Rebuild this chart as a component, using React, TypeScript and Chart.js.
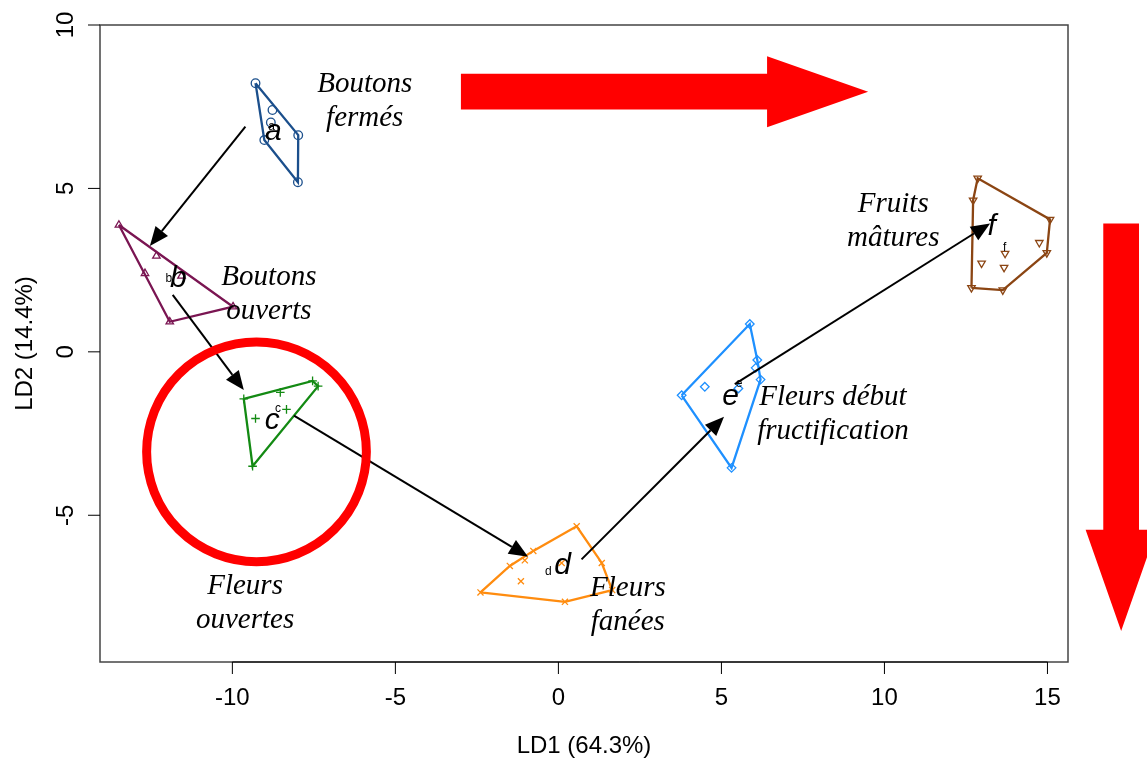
import React, { useEffect, useRef } from "react";
import { Chart, registerables } from "chart.js";

Chart.register(...registerables);

// ---- axes ----
const X_TICKS = [-10, -5, 0, 5, 10, 15];
const Y_TICKS = [-5, 0, 5, 10];
const X_MIN = -14.06;
const X_MAX = 15.63;
const Y_MIN = -9.49;
const Y_MAX = 10.0;
const X_TITLE = "LD1 (64.3%)";
const Y_TITLE = "LD2 (14.4%)";

// ---- group scores (LD1, LD2) ----
const A_LD1 = [-9.29, -8.77, -8.82, -7.98, -9.02, -7.99];
const A_LD2 = [8.22, 7.4, 7.02, 6.63, 6.48, 5.19];
const B_LD1 = [-13.48, -12.33, -12.68, -11.56, -9.98, -11.92];
const B_LD2 = [3.88, 2.93, 2.4, 2.32, 1.38, 0.92];
const C_LD1 = [-9.65, -8.53, -7.54, -7.37, -8.34, -9.29, -9.38];
const C_LD2 = [-1.44, -1.24, -0.89, -1.05, -1.76, -2.04, -3.5];
const D_LD1 = [0.56, -0.77, -1.03, -1.49, 1.33, 0.1, -1.15, -2.39, 0.2, 1.65];
const D_LD2 = [-5.34, -6.09, -6.38, -6.55, -6.46, -6.46, -7.02, -7.36, -7.65, -7.29];
const E_LD1 = [5.87, 6.1, 6.05, 6.2, 4.49, 5.52, 3.78, 5.31];
const E_LD2 = [0.85, -0.25, -0.49, -0.85, -1.07, -1.12, -1.33, -3.55];
const F_LD1 = [12.86, 12.72, 15.08, 14.75, 13.7, 14.98, 12.98, 13.67, 12.67, 13.63];
const F_LD2 = [5.31, 4.64, 4.05, 3.34, 3.01, 3.03, 2.71, 2.58, 1.96, 1.89];

const GROUP_LD1 = [A_LD1, B_LD1, C_LD1, D_LD1, E_LD1, F_LD1];
const GROUP_LD2 = [A_LD2, B_LD2, C_LD2, D_LD2, E_LD2, F_LD2];
const GROUP_COLORS = ["#1B4F8C", "#7A1552", "#138A13", "#FF8C0F", "#1E90FF", "#8B4513"];
const GROUP_SHAPES = ["circle", "triangle", "cross", "crossRot", "rectRot", "triangle"];
const GROUP_ROT = [0, 0, 0, 0, 0, 180];

// ---- annotations ----
const LETTERS = ["a", "b", "c", "d", "e", "f"];
const LETTER_LD1 = [-8.74, -11.66, -8.78, 0.13, 5.28, 13.29];
const LETTER_LD2 = [6.73, 2.25, -2.11, -6.53, -1.38, 3.83];
const SMALL_LD1 = [-8.8, -11.95, -8.6, -0.31, 5.54, 13.69];
const SMALL_LD2 = [6.9, 2.23, -1.75, -6.73, -0.97, 3.2];

const STAGE_LINE1 = ["Boutons", "Boutons", "Fleurs", "Fleurs", "Fleurs début", "Fruits"];
const STAGE_LINE2 = ["fermés", "ouverts", "ouvertes", "fanées", "fructification", "mâtures"];
const STAGE_LD1 = [-5.94, -8.88, -9.61, 2.13, 8.42, 10.27];
const STAGE_LD2 = [8.17, 2.27, -7.19, -7.24, -1.38, 4.5];

const ARROW_FROM_LD1 = [-9.6, -11.83, -8.11, 0.71, 5.41];
const ARROW_FROM_LD2 = [6.89, 1.74, -1.95, -6.35, -0.99];
const ARROW_TO_LD1 = [-12.53, -9.65, -0.93, 5.08, 13.24];
const ARROW_TO_LD2 = [3.24, -1.17, -6.27, -1.99, 3.93];

// highlight overlays (data units)
const CIRCLE_CENTER = [-9.26, -3.06];
const CIRCLE_RADIUS = 3.37;
const TOP_ARROW = { tail: -2.99, neck: 6.4, tip: 9.5, mid: 7.96, shaft: 0.546, head: 1.087 };
const SIDE_ARROW = { mid: 17.26, tail: 3.93, neck: -5.44, tip: -8.54, shaft: 0.548, head: 1.09 };

type P = { x: number; y: number };

function convexHull(pts: P[]): P[] {
  const p = [...pts].sort((a, b) => a.x - b.x || a.y - b.y);
  const cross = (o: P, a: P, b: P) => (a.x - o.x) * (b.y - o.y) - (a.y - o.y) * (b.x - o.x);
  const lower: P[] = [];
  for (const q of p) {
    while (lower.length >= 2 && cross(lower[lower.length - 2], lower[lower.length - 1], q) <= 0) lower.pop();
    lower.push(q);
  }
  const upper: P[] = [];
  for (const q of [...p].reverse()) {
    while (upper.length >= 2 && cross(upper[upper.length - 2], upper[upper.length - 1], q) <= 0) upper.pop();
    upper.push(q);
  }
  upper.pop();
  lower.pop();
  const h = lower.concat(upper);
  h.push(h[0]);
  return h;
}

const SANS = '"Liberation Sans", Arial, Helvetica, sans-serif';
const SERIF = '"Liberation Serif", "Times New Roman", serif';

const decor = {
  id: "rdecor",
  afterDraw(chart: any) {
    const { ctx, chartArea } = chart;
    const xs = chart.scales.x;
    const ys = chart.scales.y;
    const px = (v: number) => xs.getPixelForValue(v);
    const py = (v: number) => ys.getPixelForValue(v);
    const { left, right, top, bottom } = chartArea;
    ctx.save();

    // frame
    ctx.strokeStyle = "#444";
    ctx.lineWidth = 1.5;
    ctx.strokeRect(left, top, right - left, bottom - top);

    // axes ticks + labels
    ctx.strokeStyle = "#000";
    ctx.lineWidth = 1;
    ctx.fillStyle = "#000";
    ctx.font = `24px ${SANS}`;
    ctx.textAlign = "center";
    ctx.textBaseline = "middle";
    ctx.beginPath();
    ctx.moveTo(px(X_TICKS[0]), bottom);
    ctx.lineTo(px(X_TICKS[X_TICKS.length - 1]), bottom);
    ctx.stroke();
    for (const v of X_TICKS) {
      const X = px(v);
      ctx.beginPath();
      ctx.moveTo(X, bottom);
      ctx.lineTo(X, bottom + 12);
      ctx.stroke();
      ctx.fillText(String(v), X, bottom + 36);
    }
    for (const v of Y_TICKS) {
      const Y = py(v);
      ctx.beginPath();
      ctx.moveTo(left - 12, Y);
      ctx.lineTo(left, Y);
      ctx.stroke();
      ctx.save();
      ctx.translate(left - 34, Y);
      ctx.rotate(-Math.PI / 2);
      ctx.fillText(String(v), 0, 0);
      ctx.restore();
    }
    ctx.fillText(X_TITLE, (left + right) / 2, bottom + 84);
    ctx.save();
    ctx.translate(25, (top + bottom) / 2);
    ctx.rotate(-Math.PI / 2);
    ctx.fillText(Y_TITLE, 0, 0);
    ctx.restore();

    // small group labels
    ctx.font = `12px ${SANS}`;
    for (let i = 0; i < LETTERS.length; i++) {
      ctx.fillText(LETTERS[i], px(SMALL_LD1[i]), py(SMALL_LD2[i]));
    }

    // arrows between stages
    ctx.strokeStyle = "#000";
    ctx.fillStyle = "#000";
    ctx.lineWidth = 2;
    for (let i = 0; i < ARROW_FROM_LD1.length; i++) {
      const x1 = px(ARROW_FROM_LD1[i]);
      const y1 = py(ARROW_FROM_LD2[i]);
      const x2 = px(ARROW_TO_LD1[i]);
      const y2 = py(ARROW_TO_LD2[i]);
      const ang = Math.atan2(y2 - y1, x2 - x1);
      const L = 19;
      const W = 8;
      const bx = x2 - L * Math.cos(ang);
      const by = y2 - L * Math.sin(ang);
      ctx.beginPath();
      ctx.moveTo(x1, y1);
      ctx.lineTo(bx, by);
      ctx.stroke();
      ctx.beginPath();
      ctx.moveTo(x2, y2);
      ctx.lineTo(bx + W * Math.sin(ang), by - W * Math.cos(ang));
      ctx.lineTo(bx - W * Math.sin(ang), by + W * Math.cos(ang));
      ctx.closePath();
      ctx.fill();
    }

    // big letters
    ctx.font = `italic 30px ${SANS}`;
    for (let i = 0; i < LETTERS.length; i++) {
      ctx.fillText(LETTERS[i], px(LETTER_LD1[i]), py(LETTER_LD2[i]));
    }

    // stage names
    ctx.font = `italic 29px ${SERIF}`;
    for (let i = 0; i < STAGE_LINE1.length; i++) {
      const X = px(STAGE_LD1[i]);
      const Y = py(STAGE_LD2[i]);
      ctx.fillText(STAGE_LINE1[i], X, Y);
      ctx.fillText(STAGE_LINE2[i], X, Y + 34);
    }

    // red highlight: circle
    ctx.strokeStyle = "#FF0000";
    ctx.fillStyle = "#FF0000";
    ctx.lineWidth = 9;
    const cx = px(CIRCLE_CENTER[0]);
    const cy = py(CIRCLE_CENTER[1]);
    const r = Math.abs(px(CIRCLE_CENTER[0] + CIRCLE_RADIUS) - cx);
    ctx.beginPath();
    ctx.arc(cx, cy, r, 0, Math.PI * 2);
    ctx.stroke();

    // red block arrow along LD1
    const t = TOP_ARROW;
    ctx.beginPath();
    ctx.moveTo(px(t.tail), py(t.mid + t.shaft));
    ctx.lineTo(px(t.neck), py(t.mid + t.shaft));
    ctx.lineTo(px(t.neck), py(t.mid + t.head));
    ctx.lineTo(px(t.tip), py(t.mid));
    ctx.lineTo(px(t.neck), py(t.mid - t.head));
    ctx.lineTo(px(t.neck), py(t.mid - t.shaft));
    ctx.lineTo(px(t.tail), py(t.mid - t.shaft));
    ctx.closePath();
    ctx.fill();

    // red block arrow along LD2
    const s = SIDE_ARROW;
    ctx.beginPath();
    ctx.moveTo(px(s.mid - s.shaft), py(s.tail));
    ctx.lineTo(px(s.mid + s.shaft), py(s.tail));
    ctx.lineTo(px(s.mid + s.shaft), py(s.neck));
    ctx.lineTo(px(s.mid + s.head), py(s.neck));
    ctx.lineTo(px(s.mid), py(s.tip));
    ctx.lineTo(px(s.mid - s.head), py(s.neck));
    ctx.lineTo(px(s.mid - s.shaft), py(s.neck));
    ctx.closePath();
    ctx.fill();

    ctx.restore();
  },
};

export default function App() {
  const ref = useRef<HTMLCanvasElement | null>(null);

  useEffect(() => {
    if (!ref.current) return;
    const datasets: any[] = [];
    for (let g = 0; g < GROUP_LD1.length; g++) {
      const pts = GROUP_LD1[g].map((x, i) => ({ x, y: GROUP_LD2[g][i] }));
      datasets.push({
        data: convexHull(pts),
        showLine: true,
        borderColor: GROUP_COLORS[g],
        borderWidth: 2.3,
        pointRadius: 0,
        fill: false,
        tension: 0,
      });
      datasets.push({
        data: pts,
        showLine: false,
        pointStyle: GROUP_SHAPES[g],
        pointRotation: GROUP_ROT[g],
        pointRadius: 4.3,
        borderColor: GROUP_COLORS[g],
        backgroundColor: "rgba(0,0,0,0)",
        pointBorderWidth: 1.3,
      });
    }
    const chart = new Chart(ref.current, {
      type: "scatter",
      data: { datasets },
      options: {
        responsive: false,
        maintainAspectRatio: false,
        animation: false,
        layout: { padding: { left: 100, top: 25, right: 79, bottom: 96 } },
        scales: {
          x: { type: "linear", display: false, min: X_MIN, max: X_MAX },
          y: { type: "linear", display: false, min: Y_MIN, max: Y_MAX },
        },
        plugins: { legend: { display: false }, tooltip: { enabled: false } },
      },
      plugins: [decor],
    } as any);
    return () => chart.destroy();
  }, []);

  return (
    <div style={{ position: "absolute", left: 0, top: 0, width: 1147, height: 758, background: "#fff" }}>
      <canvas ref={ref} width={1147} height={758} style={{ display: "block" }} />
    </div>
  );
}
